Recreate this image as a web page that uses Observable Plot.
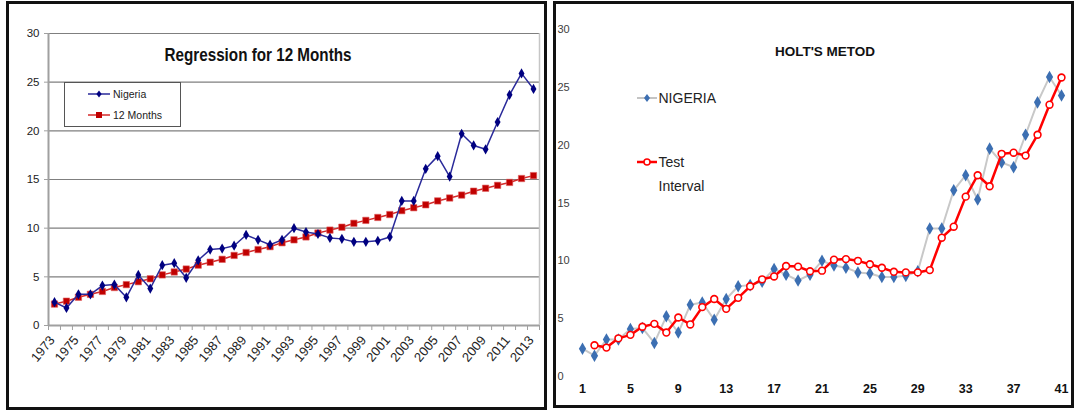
<!DOCTYPE html>
<html>
<head>
<meta charset="utf-8">
<script src="https://cdn.jsdelivr.net/npm/d3@7"></script>
<script src="https://cdn.jsdelivr.net/npm/@observablehq/plot@0.6"></script>
<style>
  html, body { margin: 0; padding: 0; background: #fff; }
  #wrap { position: relative; width: 1074px; height: 414px; overflow: hidden; background: #fff; }
  .panel { position: absolute; border: 3px solid #111; background: #fff; box-sizing: content-box; }
  #left { left: 6px; top: 1px; width: 535px; height: 403px; }
  #right { left: 553px; top: 1px; width: 515px; height: 401px; }
  .panel svg.plot { position: absolute; left: 0; top: 0; }
  .ov { position: absolute; left: 0; top: 0; pointer-events: none; }
  #ltitle { position: absolute; left: 249px; top: 51px; font: bold 17.5px "Liberation Sans", Arial, sans-serif; color: #111; transform: translate(-50%, -50%) scaleX(0.87); white-space: nowrap; }
  #rtitle { position: absolute; left: 269px; top: 47px; font: bold 13.5px "Liberation Sans Narrow", "Liberation Sans", sans-serif; color: #111; transform: translate(-50%, -50%); white-space: nowrap; }
</style>
</head>
<body>
<div id="wrap">
  <div id="left" class="panel"></div>
  <div id="right" class="panel"></div>
</div>
<script>
// ---- data ----
const years = [1973,1974,1975,1976,1977,1978,1979,1980,1981,1982,1983,1984,1985,1986,1987,1988,1989,1990,1991,1992,1993,1994,1995,1996,1997,1998,1999,2000,2001,2002,2003,2004,2005,2006,2007,2008,2009,2010,2011,2012,2013];
const periods = [1,2,3,4,5,6,7,8,9,10,11,12,13,14,15,16,17,18,19,20,21,22,23,24,25,26,27,28,29,30,31,32,33,34,35,36,37,38,39,40,41];
const nigeria = [2.4,1.8,3.2,3.2,4.1,4.2,2.9,5.2,3.8,6.2,6.4,4.9,6.7,7.8,7.9,8.2,9.3,8.8,8.3,8.8,10.0,9.6,9.4,9.0,8.9,8.6,8.6,8.7,9.1,12.8,12.8,16.1,17.4,15.3,19.7,18.5,18.1,20.9,23.7,25.9,24.3];
const months12 = [2.2,2.5,2.9,3.2,3.5,3.9,4.2,4.5,4.8,5.2,5.5,5.8,6.2,6.5,6.8,7.2,7.5,7.8,8.1,8.5,8.8,9.1,9.5,9.8,10.1,10.5,10.8,11.1,11.4,11.8,12.1,12.4,12.8,13.1,13.4,13.8,14.1,14.4,14.7,15.1,15.4];
const testInterval = [null,2.7,2.5,3.3,3.6,4.3,4.55,3.8,5.1,4.5,6.0,6.7,5.85,6.8,7.8,8.4,8.65,9.55,9.5,9.1,9.15,10.1,10.15,10.0,9.7,9.4,9.05,9.0,9.0,9.2,12.0,12.95,15.55,17.4,16.45,19.25,19.35,19.1,20.9,23.5,25.85];
const yTicks = [0,5,10,15,20,25,30];
const leftYearLabels = [1973,1975,1977,1979,1981,1983,1985,1987,1989,1991,1993,1995,1997,1999,2001,2003,2005,2007,2009,2011,2013];
const rightXTicks = [1,5,9,13,17,21,25,29,33,37,41];
const leftTitle = "Regression for 12 Months";
const rightTitle = "HOLT'S METOD";

// ---- tables ----
const leftRows = years.map((y, i) => ({year: y, nigeria: nigeria[i], m12: months12[i]}));
const rightRows = periods.map((p, i) => ({p, nigeria: nigeria[i], test: testInterval[i]}));
const yearEdges = [years[0] - 0.5, ...years.map(y => y + 0.5)];

// ---- left chart ----
const leftPlot = Plot.plot({
  width: 535, height: 403,
  marginLeft: 39, marginRight: 5, marginTop: 29, marginBottom: 82,
  x: {type: "linear", domain: [years[0] - 0.5, years[years.length - 1] + 0.5]},
  y: {domain: [0, 30]},
  style: {fontFamily: "'Liberation Sans', Arial, sans-serif", fontSize: "11px", color: "#222", background: "transparent"},
  marks: [
    Plot.gridY(yTicks.slice(1), {stroke: "#7f7f7f", strokeOpacity: 1, strokeWidth: 1.2}),
    Plot.ruleX([years[years.length - 1] + 0.5], {stroke: "#c6c6c6", strokeWidth: 1.5}),
    Plot.ruleX([years[0] - 0.5], {stroke: "#a0a0a0", strokeWidth: 2}),
    Plot.ruleY([0], {stroke: "#a0a0a0", strokeWidth: 2}),
    Plot.axisY(yTicks, {tickSize: 4, tickPadding: 5, stroke: "#a0a0a0", label: null, fontSize: 11.5}),
    Plot.axisX(yearEdges, {tickSize: 5, tickFormat: () => "", stroke: "#a0a0a0", label: null}),
    Plot.text(leftYearLabels, {x: d => d, frameAnchor: "bottom", rotate: -50, textAnchor: "end", dx: 1, dy: 15, text: d => String(d), fontSize: 13, fill: "#222"}),
    Plot.line(leftRows, {x: "year", y: "m12", stroke: "#d42a2a", strokeWidth: 1.5}),
    Plot.dot(leftRows, {x: "year", y: "m12", symbol: "square", r: 3.6, fill: "#c00000", stroke: "#e06060", strokeWidth: 0.6}),
    Plot.line(leftRows, {x: "year", y: "nigeria", stroke: "#2a2a9a", strokeWidth: 1.5}),
    Plot.dot(leftRows, {x: "year", y: "nigeria", symbol: "diamond", r: 3.1, fill: "#000080"})
  ]
});
leftPlot.classList.add("plot");
document.getElementById("left").appendChild(leftPlot);

// ---- right chart ----
const narrow = "'Liberation Sans Narrow', 'Liberation Sans', Arial, sans-serif";
const rightPlot = Plot.plot({
  width: 515, height: 401,
  marginLeft: 26, marginRight: 10, marginTop: 25, marginBottom: 29,
  x: {type: "linear", domain: [periods[0], periods[periods.length - 1]], axis: null},
  y: {domain: [0, 30], axis: null},
  style: {fontFamily: narrow, fontSize: "11px", color: "#333", background: "transparent"},
  marks: [
    Plot.text(yTicks, {y: d => d, frameAnchor: "left", textAnchor: "start", dx: -25, text: d => String(d), fontSize: 11, fill: "#404040"}),
    Plot.text(rightXTicks, {x: d => d, frameAnchor: "bottom", dy: 16, text: d => String(d), fontSize: 12.5, fontWeight: "bold", fill: "#111"}),
    Plot.line(rightRows, {x: "p", y: "nigeria", stroke: "#c8c8c8", strokeWidth: 2}),
    Plot.dot(rightRows, {x: "p", y: "nigeria", symbol: "diamond", r: 3.8, fill: "#3c6fb2"}),
    Plot.line(rightRows.filter(d => d.test != null), {x: "p", y: "test", stroke: "#ff0000", strokeWidth: 2.5}),
    Plot.dot(rightRows.filter(d => d.test != null), {x: "p", y: "test", r: 3.4, fill: "#fff", stroke: "#ff0000", strokeWidth: 1.6})
  ]
});
rightPlot.classList.add("plot");
document.getElementById("right").appendChild(rightPlot);

// ---- titles & legends (decoration) ----
const lt = document.createElement("div"); lt.id = "ltitle"; lt.textContent = leftTitle;
document.getElementById("left").appendChild(lt);
const rt = document.createElement("div"); rt.id = "rtitle"; rt.textContent = rightTitle;
document.getElementById("right").appendChild(rt);

const NS = "http://www.w3.org/2000/svg";
function el(parent, tag, attrs, text) {
  const e = document.createElementNS(NS, tag);
  for (const k in attrs) e.setAttribute(k, attrs[k]);
  if (text != null) e.textContent = text;
  parent.appendChild(e);
  return e;
}
function diamond(cx, cy, w, h) { return `M${cx},${cy - h} L${cx + w},${cy} L${cx},${cy + h} L${cx - w},${cy} Z`; }

// left legend
const ls = el(document.getElementById("left"), "svg", {class: "ov", width: 535, height: 403});
el(ls, "rect", {x: 55.5, y: 78.5, width: 116, height: 44, fill: "#fff", stroke: "#555", "stroke-width": 1});
el(ls, "line", {x1: 79, x2: 101, y1: 90, y2: 90, stroke: "#2a2a9a", "stroke-width": 1.5});
el(ls, "path", {d: diamond(90, 90, 2.6, 3.4), fill: "#000080"});
el(ls, "text", {x: 104, y: 90, "dominant-baseline": "central", "font-family": "'Liberation Sans', Arial, sans-serif", "font-size": 10.5, fill: "#222"}, "Nigeria");
el(ls, "line", {x1: 79, x2: 101, y1: 111, y2: 111, stroke: "#d42a2a", "stroke-width": 1.5});
el(ls, "rect", {x: 87, y: 108, width: 6, height: 6, fill: "#c00000"});
el(ls, "text", {x: 104, y: 111, "dominant-baseline": "central", "font-family": "'Liberation Sans', Arial, sans-serif", "font-size": 10.5, fill: "#222"}, "12 Months");

// right legend
const rs = el(document.getElementById("right"), "svg", {class: "ov", width: 515, height: 401});
el(rs, "line", {x1: 81, x2: 101, y1: 94, y2: 94, stroke: "#b0b0b0", "stroke-width": 1.5});
el(rs, "path", {d: diamond(91, 94, 3, 4), fill: "#3c6fb2"});
el(rs, "text", {x: 102.5, y: 94, "dominant-baseline": "central", "font-family": narrow, "font-size": 14, fill: "#222"}, "NIGERIA");
el(rs, "line", {x1: 81, x2: 101, y1: 158, y2: 158, stroke: "#ff0000", "stroke-width": 2.5});
el(rs, "circle", {cx: 91, cy: 158, r: 3, fill: "#fff", stroke: "#ff0000", "stroke-width": 1.5});
el(rs, "text", {x: 102.5, y: 158, "dominant-baseline": "central", "font-family": narrow, "font-size": 14, fill: "#222"}, "Test");
el(rs, "text", {x: 102.5, y: 182, "dominant-baseline": "central", "font-family": narrow, "font-size": 14, fill: "#222"}, "Interval");
</script>
</body>
</html>
